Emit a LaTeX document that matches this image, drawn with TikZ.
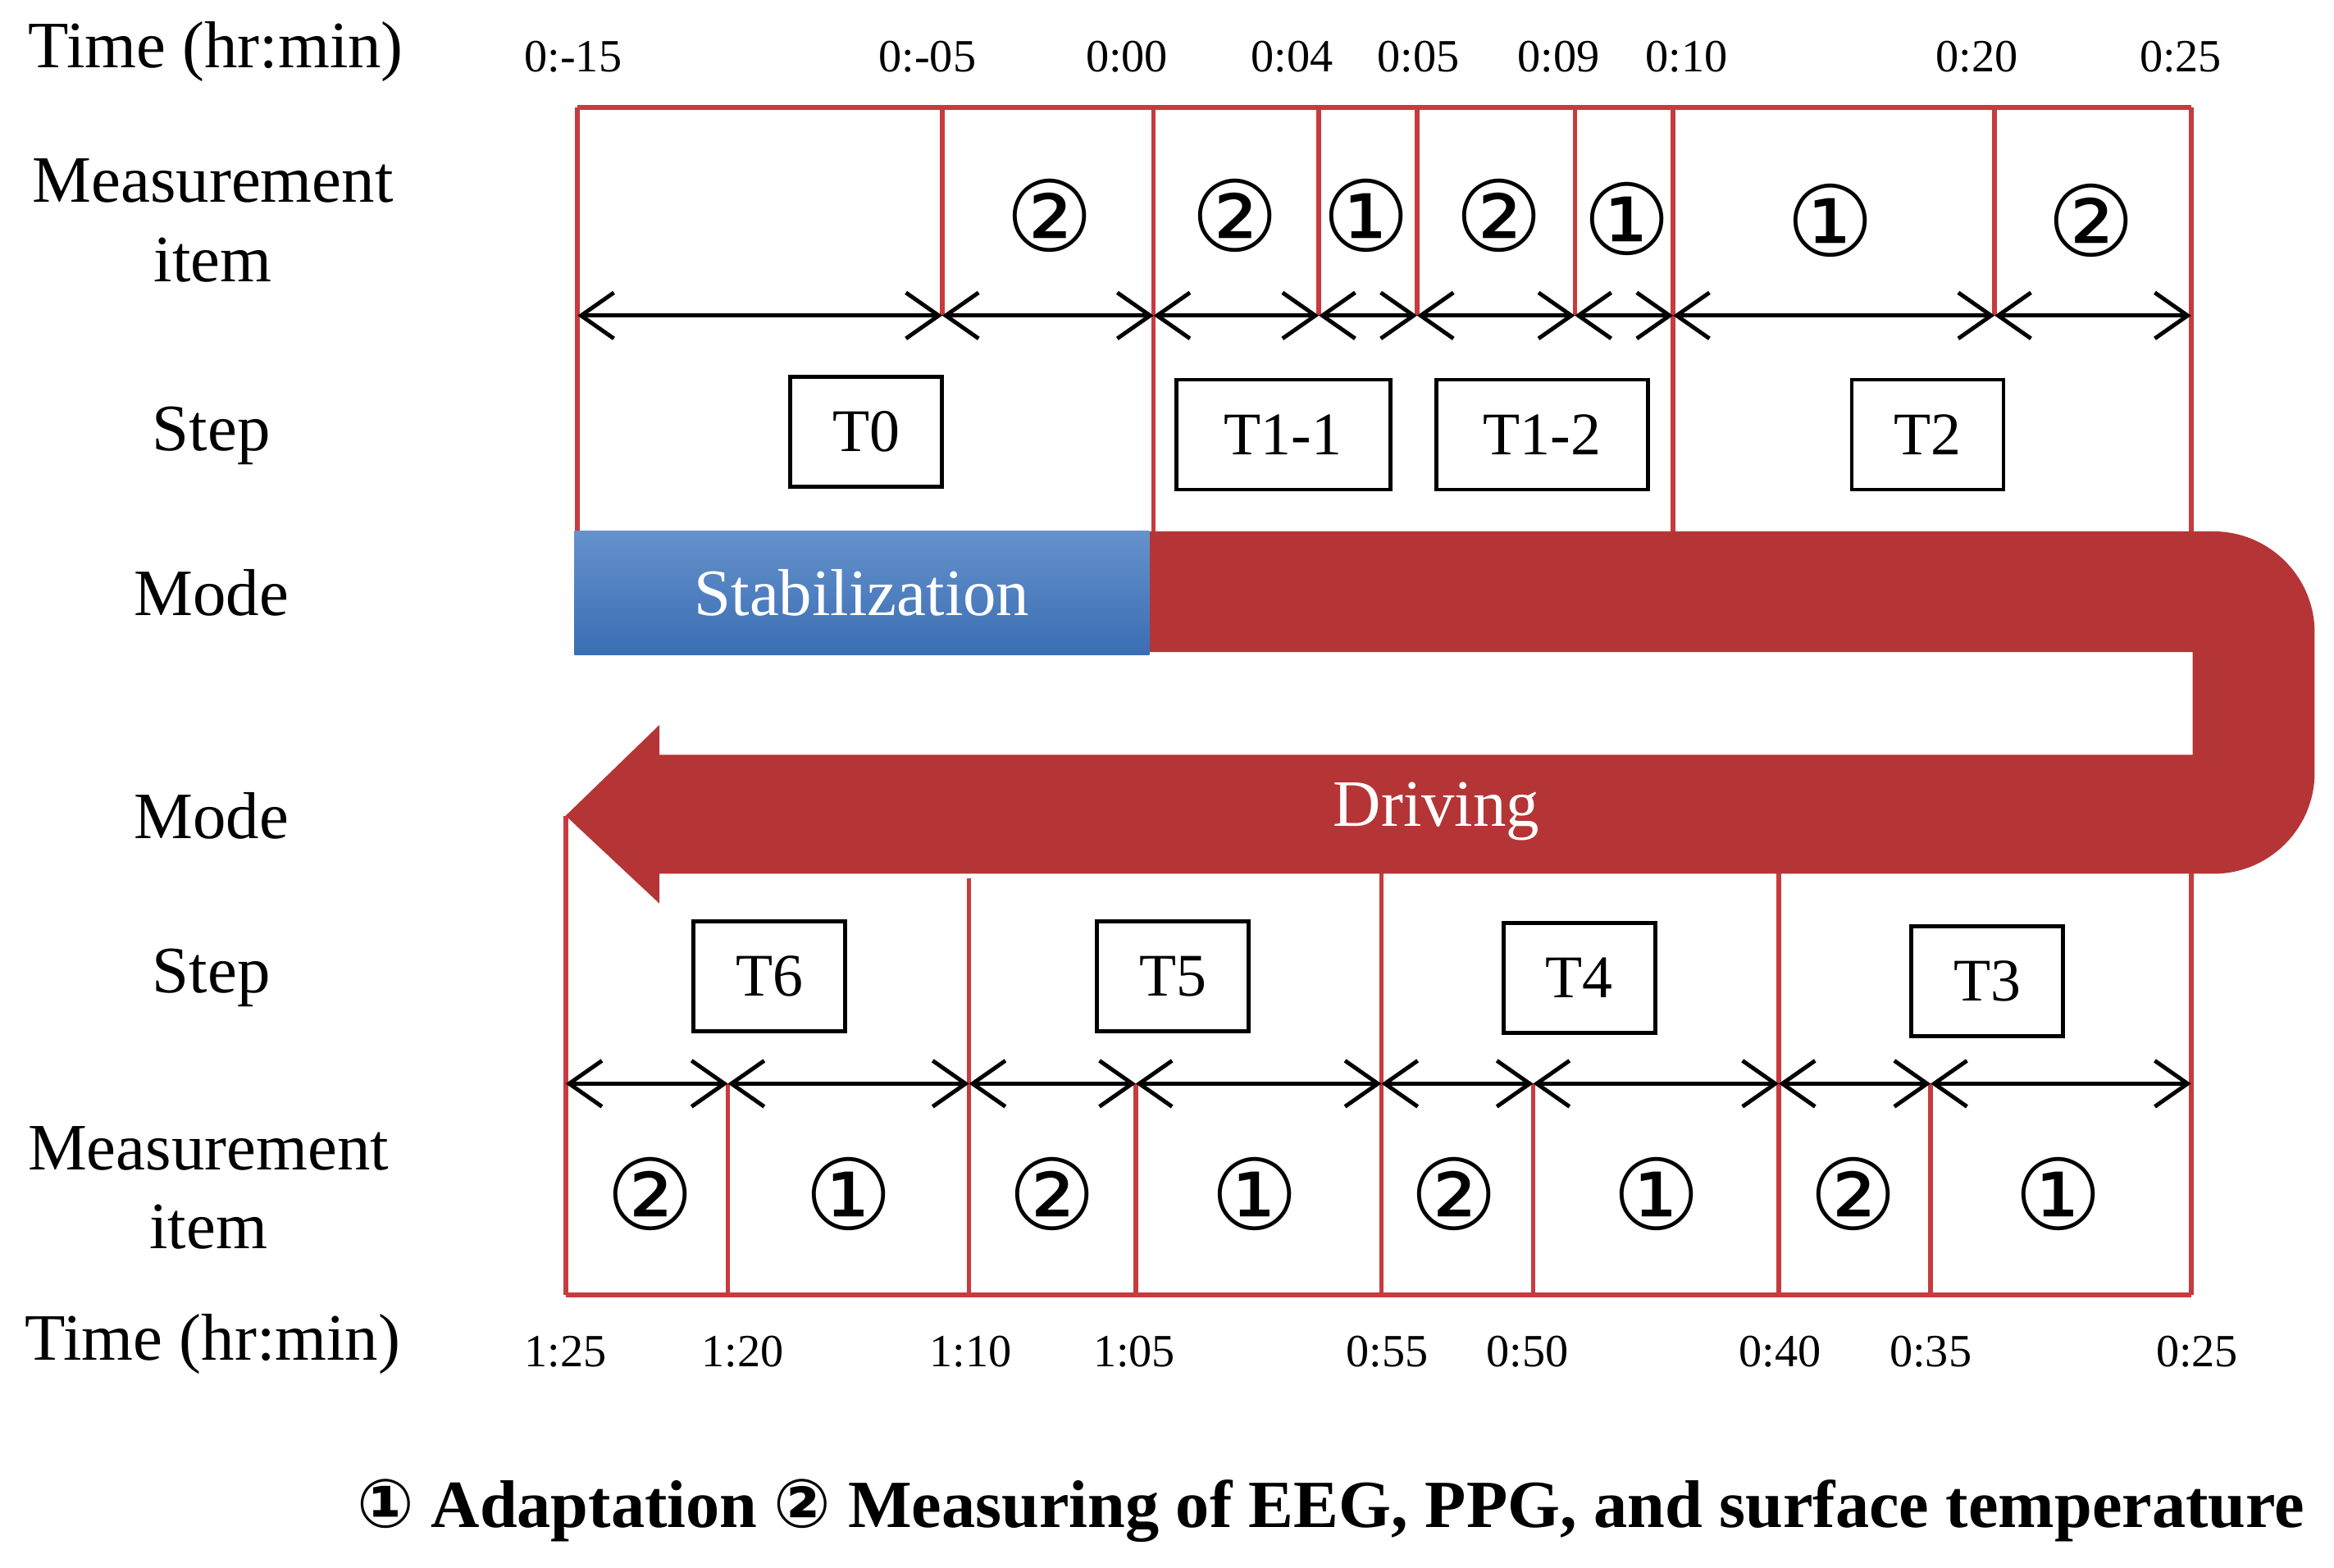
\documentclass[tikz,border=0pt]{standalone}
\usepackage{fontspec}
\setmainfont{Liberation Serif}
\newfontfamily\circfont{DejaVu Sans}
\usepackage{tikz}
\usetikzlibrary{arrows.meta, positioning, calc}
\definecolor{FrameRed}{HTML}{C73B3E}
\definecolor{BandRed}{HTML}{B53536}
\definecolor{StabTop}{HTML}{6592CC}
\definecolor{StabBot}{HTML}{3A6DB3}
\newcommand{\cnum}[1]{{\circfont #1}}
\tikzset{
    rowlabel/.style={font=\fontsize{23}{27.5}\selectfont, align=center},
    ticklabel/.style={font=\fontsize{16}{18}\selectfont},
    stepbox/.style={rectangle, draw, line width=1.4pt, minimum width=18.5mm,
                    minimum height=13.4mm, font=\fontsize{21}{24}\selectfont},
    itemmark/.style={font=\fontsize{34}{36}\selectfont\circfont, inner sep=0pt},
    frameline/.style={FrameRed, line width=1.6pt},
    span/.style={{Straight Barb[length=4mm,width=5.6mm]}-{Straight Barb[length=4mm,width=5.6mm]},
                 line width=1.4pt}
}

\begin{document}
\begin{tikzpicture}[x=0.1815mm, y=-0.1815mm]
    \useasboundingbox (0,0) rectangle (1568,1053);

    % Row labels on the left
    \node[rowlabel] (time1) at (145,35) {Time (hr:min)};
    \node[rowlabel] (item1) at (143,148) {Measurement\\item};
    \node[rowlabel] (step1) at (142,293) {Step};
    \node[rowlabel] (mode1) at (142,398) {Mode};
    \node[rowlabel] (mode2) at (142,548) {Mode};
    \node[rowlabel] (step2) at (142,657) {Step};
    \node[rowlabel] (item2) at (140,798) {Measurement\\item};
    \node[rowlabel] (time2) at (143,903) {Time (hr:min)};

    % First half: ticks, spans and time labels
    \foreach \n/\x/\lx/\txt in {0/388/385/0:-15, 1/633/623/0:-05, 2/775/757/0:00,
                                3/886/868/0:04, 4/952/953/0:05, 5/1058/1047/0:09,
                                6/1124/1133/0:10, 7/1340/1328/0:20, 8/1472/1465/0:25} {
        \coordinate (top\n) at (\x,72);
        \coordinate (arr\n) at (\x,212);
        \coordinate (base\n) at (\x,357);
        \node[ticklabel] (tt\n) at (\lx,38) {\txt};
    }
    \draw[frameline] (top0) -- (top8);
    \foreach \n in {1,3,4,5,7}
        \draw[frameline] (top\n) -- (arr\n);
    \foreach \n in {0,2,6,8}
        \draw[frameline] (top\n) -- (base\n);
    \foreach \a/\b in {0/1,1/2,2/3,3/4,4/5,5/6,6/7,7/8}
        \draw[span] (arr\a) -- (arr\b);

    % Measurement items, first half
    \node[itemmark] (m1) at (705,145) {②};
    \node[itemmark] (m2) at (830,145) {②};
    \node[itemmark] (m3) at (918,145) {①};
    \node[itemmark] (m4) at (1007,145) {②};
    \node[itemmark] (m5) at (1093,147) {①};
    \node[itemmark] (m6) at (1230,148) {①};
    \node[itemmark] (m7) at (1405,148) {②};

    % Steps, first half
    \node[stepbox] (T0) at (582,290) {T0};
    \node[stepbox, minimum width=26.1mm] (T11) at (862,292) {T1-1};
    \node[stepbox, minimum width=25.8mm] (T12) at (1036,292) {T1-2};
    \node[stepbox] (T2) at (1295,292) {T2};

    % Mode: driving band turning back
    \fill[BandRed] (772,357) -- (1487,357) arc (-90:0:68) -- (1555,519)
        arc (0:90:68) -- (443,587) -- (443,607) -- (380,548) -- (443,487)
        -- (443,507) -- (1473,507) -- (1473,438) -- (772,438) -- cycle;
    \coordinate (tip) at (380,548);
    \node[rectangle, minimum width=70.1mm, minimum height=15.1mm,
          top color=StabTop, bottom color=StabBot, text=white,
          font=\fontsize{23}{26}\selectfont] (stab) at (579,398.5) {Stabilization};
    \node[text=white, font=\fontsize{23}{26}\selectfont] (drive) at (965,545) {Driving};

    % Second half: ticks, spans and time labels
    \foreach \n/\x/\y/\lx/\txt in {0/380/548/380/1:25, 1/489/728/499/1:20, 2/651/590/652/1:10,
                                   3/763/728/762/1:05, 4/928/587/932/0:55, 5/1030/728/1026/0:50,
                                   6/1195/587/1196/0:40, 7/1297/728/1297/0:35, 8/1472/587/1476/0:25} {
        \coordinate (up\n) at (\x,\y);
        \coordinate (brr\n) at (\x,728);
        \coordinate (bot\n) at (\x,870);
        \node[ticklabel] (bt\n) at (\lx,908) {\txt};
    }
    \draw[frameline] (bot0) -- (bot8);
    \draw[frameline] (tip) -- (bot0);
    \foreach \n in {1,...,8}
        \draw[frameline] (up\n) -- (bot\n);
    \foreach \a/\b in {0/1,1/2,2/3,3/4,4/5,5/6,6/7,7/8}
        \draw[span] (brr\a) -- (brr\b);

    % Measurement items, second half
    \node[itemmark] (n1) at (437,802) {②};
    \node[itemmark] (n2) at (570,802) {①};
    \node[itemmark] (n3) at (707,802) {②};
    \node[itemmark] (n4) at (843,802) {①};
    \node[itemmark] (n5) at (977,802) {②};
    \node[itemmark] (n6) at (1113,802) {①};
    \node[itemmark] (n7) at (1245,802) {②};
    \node[itemmark] (n8) at (1383,802) {①};

    % Steps, second half
    \node[stepbox] (T6) at (517,656) {T6};
    \node[stepbox] (T5) at (788,656) {T5};
    \node[stepbox] (T4) at (1061,657) {T4};
    \node[stepbox] (T3) at (1335,659) {T3};

    % Legend
    \node[font=\fontsize{23.4}{27}\selectfont\bfseries] (legend) at (894,1015)
        {\cnum{①} Adaptation \cnum{②} Measuring of EEG, PPG, and surface temperature};
\end{tikzpicture}
\end{document}
